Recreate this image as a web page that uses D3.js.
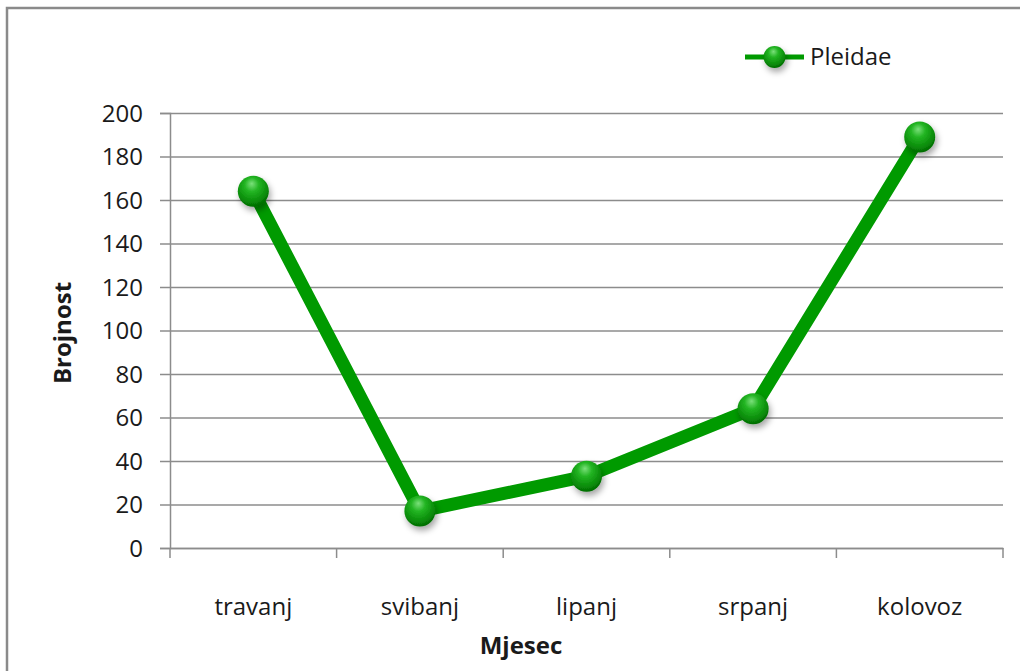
<!DOCTYPE html>
<html lang="hr">
<head>
<meta charset="UTF-8">
<title>Pleidae</title>
<script src="https://d3js.org/d3.v7.min.js"></script>
<style>
    body { margin: 0; background: #fff; }
    svg text { font-family: "Open Sans", "Noto Sans", sans-serif; fill: #1a1a1a; }
</style>
</head>
<body>
<div id="chart"></div>
<script>
    // data
    const months = ['travanj', 'svibanj', 'lipanj', 'srpanj', 'kolovoz'];
    const pleidae = [164, 17, 33, 64, 189];
    const yTicks = [0, 20, 40, 60, 80, 100, 120, 140, 160, 180, 200];
    const seriesName = 'Pleidae';

    const width = 1020;
    const height = 671;
    const plot = { left: 170, right: 1003, top: 113, bottom: 548 };
    const green = '#009a00';

    const svg = d3.select('#chart').append('svg')
        .attr('width', width)
        .attr('height', height);

    const defs = svg.append('defs');
    const grad = defs.append('radialGradient')
        .attr('id', 'ball')
        .attr('cx', '45%').attr('cy', '35%').attr('r', '65%')
        .attr('fx', '45%').attr('fy', '25%');
    grad.append('stop').attr('offset', '0%').attr('stop-color', '#7be07b');
    grad.append('stop').attr('offset', '35%').attr('stop-color', '#23b523');
    grad.append('stop').attr('offset', '80%').attr('stop-color', '#088a08');
    grad.append('stop').attr('offset', '100%').attr('stop-color', '#046a04');

    const shadow = defs.append('filter').attr('id', 'shadow')
        .attr('x', '-50%').attr('y', '-50%').attr('width', '200%').attr('height', '200%');
    shadow.append('feDropShadow')
        .attr('dx', 2).attr('dy', 4).attr('stdDeviation', 3)
        .attr('flood-color', '#000').attr('flood-opacity', 0.35);

    // outer chart frame (only left and top edges visible in the picture)
    svg.append('rect')
        .attr('x', 7).attr('y', 8)
        .attr('width', 1040).attr('height', 700)
        .attr('fill', 'none')
        .attr('stroke', '#8a8a8a')
        .attr('stroke-width', 2.5);

    const x = d3.scaleBand()
        .domain(months)
        .range([plot.left, plot.right]);

    const y = d3.scaleLinear()
        .domain([0, 200])
        .range([plot.bottom, plot.top]);

    // horizontal gridlines + y axis
    const yAxis = svg.append('g')
        .attr('transform', `translate(${plot.left},0)`)
        .call(d3.axisLeft(y).tickValues(yTicks).tickSize(10).tickPadding(17));
    yAxis.select('.domain').attr('stroke', '#8c8c8c').attr('stroke-width', 1.5);
    yAxis.selectAll('.tick line').attr('stroke', '#8c8c8c').attr('stroke-width', 1.5)
        .attr('x2', plot.right - plot.left).attr('x1', -10);
    yAxis.selectAll('.tick text')
        .style('font-size', '24px')
        .attr('fill', '#1a1a1a')
        .attr('dy', '0.34em');

    // x axis
    const xAxis = svg.append('g')
        .attr('transform', `translate(0,${plot.bottom})`)
        .call(d3.axisBottom(x).tickSize(0).tickPadding(50));
    xAxis.select('.domain').attr('stroke', '#8c8c8c').attr('stroke-width', 1.5);
    xAxis.selectAll('.tick text').style('font-size', '24px').attr('fill', '#1a1a1a');

    // category divider ticks
    const edges = months.map(m => x(m)).concat([x.range()[1]]);
    svg.append('g').selectAll('line')
        .data(edges)
        .enter().append('line')
        .attr('x1', d => d).attr('x2', d => d)
        .attr('y1', plot.bottom).attr('y2', plot.bottom + 10)
        .attr('stroke', '#8c8c8c')
        .attr('stroke-width', 1.5);

    // axis titles
    svg.append('text')
        .attr('x', 521)
        .attr('y', 654)
        .attr('text-anchor', 'middle')
        .style('font-size', '24px')
        .style('font-weight', 'bold')
        .text('Mjesec');

    svg.append('text')
        .attr('transform', 'translate(71,333) rotate(-90)')
        .attr('text-anchor', 'middle')
        .style('font-size', '24px')
        .style('font-weight', 'bold')
        .text('Brojnost');

    // series line
    const cx = (d, i) => x(months[i]) + x.bandwidth() / 2;
    const line = d3.line()
        .x((d, i) => cx(d, i))
        .y(d => y(d));

    svg.append('path')
        .datum(pleidae)
        .attr('d', line)
        .attr('fill', 'none')
        .attr('stroke', green)
        .attr('stroke-width', 13)
        .attr('stroke-linejoin', 'round');

    svg.append('g').selectAll('circle')
        .data(pleidae)
        .enter().append('circle')
        .attr('cx', cx)
        .attr('cy', d => y(d))
        .attr('r', 15.5)
        .attr('fill', 'url(#ball)')
        .attr('filter', 'url(#shadow)');

    // legend
    const legend = svg.append('g').attr('transform', 'translate(745,57)');
    legend.append('line')
        .attr('x1', 0).attr('x2', 59)
        .attr('y1', 0).attr('y2', 0)
        .attr('stroke', green)
        .attr('stroke-width', 5);
    legend.append('circle')
        .attr('cx', 29.5).attr('cy', 0).attr('r', 11)
        .attr('fill', 'url(#ball)')
        .attr('filter', 'url(#shadow)');
    legend.append('text')
        .attr('x', 65).attr('y', 0)
        .attr('dy', '0.35em')
        .style('font-size', '24px')
        .text(seriesName);
</script>
</body>
</html>
